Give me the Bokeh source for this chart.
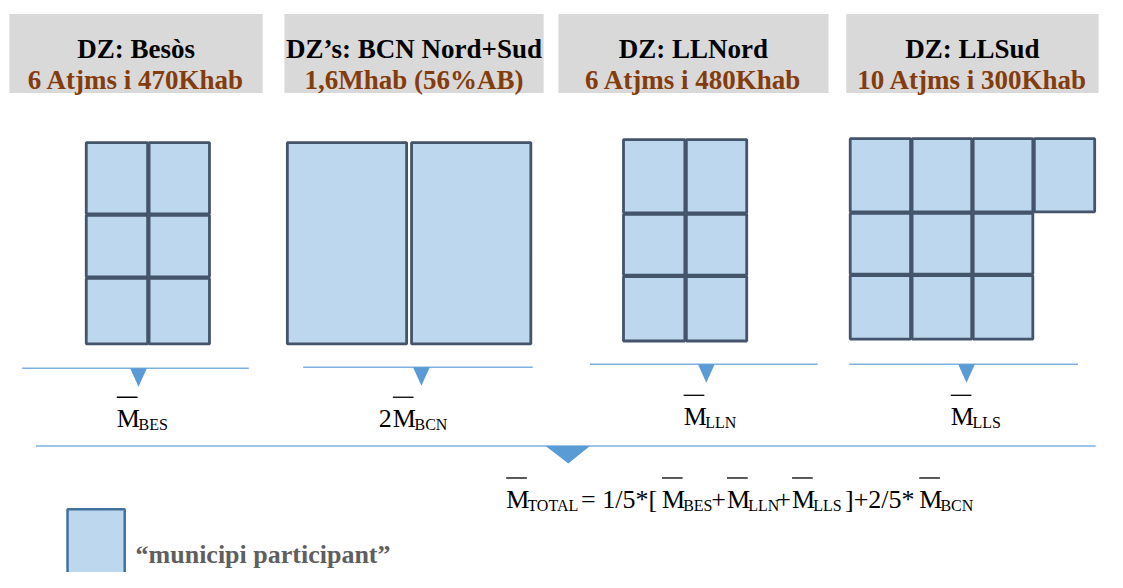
from bokeh.plotting import figure
from bokeh.models import Range1d
from bokeh.core.properties import value
from bokeh.embed import file_html
from bokeh.resources import INLINE

# ---------------- data ----------------
zone_titles = ["DZ: Besòs", "DZ’s: BCN Nord+Sud", "DZ: LLNord", "DZ: LLSud"]
zone_details = ["6 Atjms i 470Khab", "1,6Mhab (56%AB)", "6 Atjms i 480Khab", "10 Atjms i 300Khab"]
zone_cells = [6, 2, 6, 10]
zone_weights = ["", "2", "", ""]
zone_subscripts = ["BES", "BCN", "LLN", "LLS"]
total_subscript = "TOTAL"
formula_parts = ["= 1/5*[", "+", "+", "]+2/5*"]
formula_terms = ["BES", "LLN", "LLS", "BCN"]
legend_label = "“municipi participant”"

# ---------------- layout (pixels of the 1123x588 reference) ----------------
header_x = [(9, 266), (288, 551), (566, 840), (858, 1114)]
header_y = (14, 95)
grid_xe = [[87, 150, 212], [291, 414.5, 538], [632, 695, 757], [862, 924, 986, 1048, 1110]]
grid_ye = [[146, 220, 285, 353], [146, 353], [143, 219, 283, 350], [142, 218, 282, 348]]
grid_gap = [1.5, 5, 1.5, 1.5]
conn = [(22, 252, 378, 140), (307, 540, 377, 427), (598, 829, 374, 716), (861, 1093, 374, 980)]
label_mx = [118, 398, 693, 964]
label_base = [430, 430, 428, 428]
MAIN = 26
SUB = 16
CAP = 0.66 * MAIN

SERIF = value("Liberation Serif")
CELL_FILL = "#BDD7EE"
CELL_LINE = "#44546A"
BLUE = "#5B9BD5"
BLUE_LINE = "#7EB0E0"

p = figure(width=1107, height=572, output_backend="svg", toolbar_location=None,
           x_range=Range1d(0, 1123), y_range=Range1d(588, 0),
           min_border=0, outline_line_color=None)
p.axis.visible = False
p.grid.visible = False
p.background_fill_color = "white"
p.border_fill_color = "white"

# header boxes
p.quad(left=[a for a, b in header_x], right=[b for a, b in header_x],
       top=[header_y[0]] * 4, bottom=[header_y[1]] * 4,
       fill_color="#D9D9D9", line_color=None)
cx = [(a + b) / 2 for a, b in header_x]
p.text(x=cx, y=[50] * 4, text=zone_titles, text_align="center", text_baseline="alphabetic",
       text_font=SERIF, text_font_style="bold", text_font_size="27px", text_color="#000000")
p.text(x=cx, y=[82] * 4, text=zone_details, text_align="center", text_baseline="alphabetic",
       text_font=SERIF, text_font_style="bold", text_font_size="27px", text_color="#843C0C")

# municipality grids (column-major fill)
L, R, T, B = [], [], [], []
for n, xe, ye, g in zip(zone_cells, grid_xe, grid_ye, grid_gap):
    ncols, nrows = len(xe) - 1, len(ye) - 1
    k = 0
    for c in range(ncols):
        for r in range(nrows):
            if k >= n:
                break
            L.append(xe[c] + (g / 2 if c > 0 else 0))
            R.append(xe[c + 1] - (g / 2 if c + 1 < ncols else 0))
            T.append(ye[r] + (g / 2 if r > 0 else 0))
            B.append(ye[r + 1] - (g / 2 if r + 1 < nrows else 0))
            k += 1
p.quad(left=L, right=R, top=T, bottom=B, fill_color=CELL_FILL,
       line_color=CELL_LINE, line_width=2.8)

# connectors
p.segment(x0=[c[0] for c in conn], x1=[c[1] for c in conn],
          y0=[c[2] for c in conn], y1=[c[2] for c in conn],
          line_color=BLUE_LINE, line_width=1.5)
p.patches(xs=[[c[3] - 8.5, c[3] + 8.5, c[3]] for c in conn],
          ys=[[c[2], c[2], c[2] + 19] for c in conn],
          fill_color=BLUE, line_color=None)

# zone labels
p.text(x=[m - 1 for m in label_mx], y=label_base, text=zone_weights, text_align="right",
       text_baseline="alphabetic", text_font=SERIF, text_font_size=f"{MAIN}px", text_color="#000000")
p.text(x=label_mx, y=label_base, text=["M"] * 4, text_align="left",
       text_baseline="alphabetic", text_font=SERIF, text_font_size=f"{MAIN}px", text_color="#000000")
p.text(x=[m + 22 for m in label_mx], y=[b + 6 for b in label_base], text=zone_subscripts,
       text_align="left", text_baseline="alphabetic", text_font=SERIF, text_font_size=f"{SUB}px",
       text_color="#000000")
p.segment(x0=label_mx, x1=[m + 21 for m in label_mx],
          y0=[b - CAP - 5 for b in label_base], y1=[b - CAP - 5 for b in label_base],
          line_color="#000000", line_width=1.3)

# total connector
p.segment(x0=[36], x1=[1111], y0=[458], y1=[458], line_color=BLUE_LINE, line_width=1.5)
p.patches(xs=[[553, 598, 576]], ys=[[458, 458, 476]], fill_color=BLUE, line_color=None)

# formula
fM = [513, 671, 737, 803, 932]
fbase = 513
p.text(x=fM, y=[fbase] * 5, text=["M"] * 5, text_align="left", text_baseline="alphabetic",
       text_font=SERIF, text_font_size=f"{MAIN}px", text_color="#000000")
p.segment(x0=fM, x1=[m + 21 for m in fM], y0=[fbase - CAP - 5] * 5, y1=[fbase - CAP - 5] * 5,
          line_color="#000000", line_width=1.3)
p.text(x=[m + 21.5 for m in fM], y=[fbase + 6] * 5, text=[total_subscript] + formula_terms,
       text_align="left", text_baseline="alphabetic", text_font=SERIF, text_font_size=f"{SUB}px",
       text_color="#000000")
slots = [(587, 668), (721, 736), (787, 802), (853, 931)]
p.text(x=[(a + b) / 2 for a, b in slots], y=[fbase] * 4, text=formula_parts, text_align="center",
       text_baseline="alphabetic", text_font=SERIF, text_font_size=f"{MAIN}px", text_color="#000000")

# legend
p.quad(left=[68], right=[126], top=[523], bottom=[600], fill_color=CELL_FILL,
       line_color="#41719C", line_width=2.5)
p.text(x=[137], y=[569], text=[legend_label], text_align="left", text_baseline="alphabetic",
       text_font=SERIF, text_font_style="bold", text_font_size="26px", text_color="#5F5F5F")

open("out.html", "w").write(file_html(p, INLINE))
